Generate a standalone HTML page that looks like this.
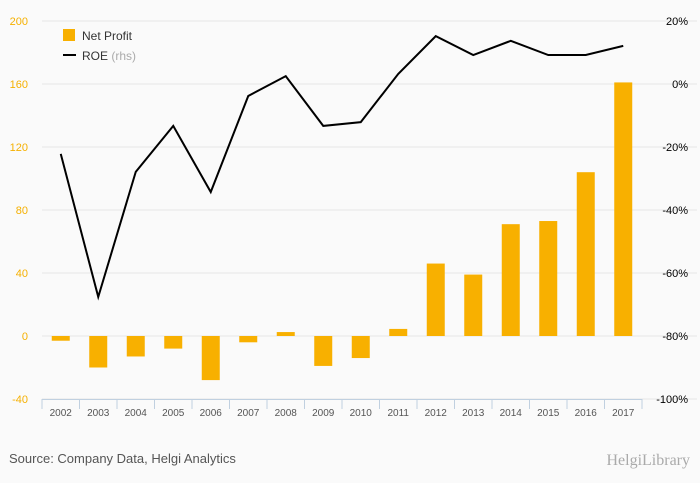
<!DOCTYPE html>
<html><head><meta charset="utf-8"><style>
body{margin:0;background:#fafafa;font-family:"Liberation Sans",sans-serif}
#wrap{position:relative;width:700px;height:483px;overflow:hidden;background:#fafafa}
</style></head><body>
<div id="wrap">
<svg id="chart" width="700" height="483"></svg>
</div>
<script>
const categories=["2002","2003","2004","2005","2006","2007","2008","2009","2010","2011","2012","2013","2014","2015","2016","2017"];
const netProfit=[-3,-20,-13,-8,-28,-4,2.5,-19,-14,4.5,46,39,71,73,104,161];
const roe=[-22.2,-67.6,-27.9,-13.3,-34.3,-3.8,2.5,-13.3,-12.1,3.2,15.2,9.2,13.7,9.2,9.2,12.1];
const leftTicks=[200,160,120,80,40,0,-40];
const rightTicks=[20,0,-20,-40,-60,-80,-100];
const NS="http://www.w3.org/2000/svg";
const svg=document.getElementById('chart');
const L=42,R=642,T=21,B=399;
const yL=v=>T+(200-v)/240*(B-T);
const yR=v=>T+(20-v)/120*(B-T);
const bw=(R-L)/categories.length;
const xC=i=>L+bw*(i+0.5);
function mk(tag,a,txt){const e=document.createElementNS(NS,tag);for(const k in a)e.setAttribute(k,a[k]);if(txt!==undefined)e.textContent=txt;svg.appendChild(e);return e;}
leftTicks.forEach(v=>{
 const g=mk('line',{x1:L,x2:R+55,y1:yL(v),y2:yL(v),stroke:'#e6e6e6','stroke-width':1});
 
 
 const t=mk('text',{x:28,y:yL(v)+4,'text-anchor':'end','font-size':11,fill:'#f5b000'},v);
 
 
});
rightTicks.forEach(v=>{
 const t=mk('text',{x:688,y:yR(v)+4,'text-anchor':'end','font-size':11,fill:'#000'},v+'%');
 
 
});
const ax=mk('line',{x1:L,x2:R,y1:B+0.5,y2:B+0.5,stroke:'#c0d0e0'});


categories.forEach((c,i)=>{
 const tk=mk('line',{x1:L+bw*i,x2:L+bw*i,y1:B,y2:B+10,stroke:'#c0d0e0'});
 
 
 const t=mk('text',{x:xC(i),y:B+17,'text-anchor':'middle','font-size':10,fill:'#555'},c);
 
 
});
const tk2=mk('line',{x1:R,x2:R,y1:B,y2:B+10,stroke:'#c0d0e0'});


netProfit.forEach((v,i)=>{
 const y0=yL(0),y1=yL(v);
 const b=mk('rect',{x:xC(i)-9,y:Math.min(y0,y1),width:18,height:Math.max(1,Math.abs(y1-y0)),fill:'#f8b000'});
 
 
});
const pts=roe.map((v,i)=>xC(i)+','+yR(v)).join(' ');
const pl=mk('polyline',{points:pts,fill:'none',stroke:'#000','stroke-width':2,'stroke-linejoin':'miter'});


const lr=mk('rect',{x:63,y:29,width:12,height:12,fill:'#f8b000'});


const lt=mk('text',{x:82,y:40,'font-size':12,fill:'#333'},'Net Profit');


const ll=mk('line',{x1:63,x2:76,y1:55,y2:55,stroke:'#000','stroke-width':2});


const lt2=mk('text',{x:82,y:60,'font-size':12,fill:'#333'});


lt2.innerHTML='ROE <tspan fill="#aaa">(rhs)</tspan>';
const src=mk('text',{x:9,y:463,'font-size':13,fill:'#555'},'Source: Company Data, Helgi Analytics');


const lg=mk('text',{x:690,y:465,'text-anchor':'end','font-size':16,fill:'#aaa','font-family':'Liberation Serif, serif'},'HelgiLibrary');


</script>
</body></html>
